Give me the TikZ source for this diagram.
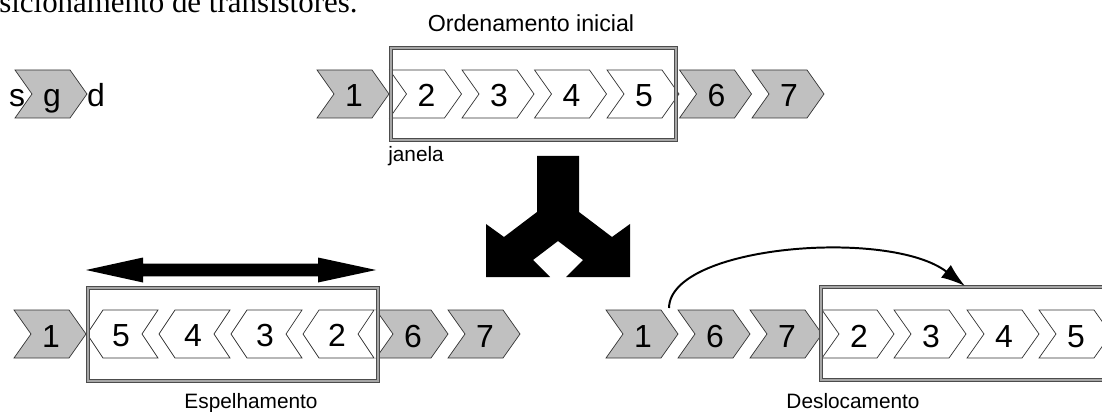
\documentclass[tikz,border=0pt]{standalone}
\usepackage{fontspec}
\setmainfont{Liberation Sans}
\newfontfamily\serifa{Liberation Serif}
\usetikzlibrary{arrows.meta}

\definecolor{cinza}{RGB}{192,192,192}

\tikzset{
  contorno/.style={draw=black!80, line width=0.5pt},
  digito/.style={font=\fontsize{22.7}{26}\selectfont, anchor=base, inner sep=0pt},
  rotulo/.style={font=\fontsize{14.8}{17}\selectfont, anchor=base, inner sep=0pt},
  janela/.style={draw=black!70, double=black!35, double distance=1.8pt, line width=0.7pt},
  % transistor (s -> d)
  pics/seta/.style 2 args={code={
    \draw[contorno, fill=#2] (0,-24) -- (55,-24) -- (72,0) -- (55,24) -- (0,24) -- (17,0) -- cycle;
    \node[digito] (-txt) at (37,13) {#1};
  }},
  % transistor espelhado (d -> s)
  pics/volta/.style 2 args={code={
    \draw[contorno, fill=#2] (0,0) -- (16,-24) -- (71,-24) -- (55,0) -- (71,24) -- (16,24) -- cycle;
    \node[digito] (-txt) at (34,12) {#1};
  }}
}

\begin{document}
\begin{tikzpicture}[x=0.025cm, y=-0.025cm]
    \useasboundingbox (0,0) rectangle (1102,412);
    \begin{scope}[overlay]
    \clip (0,0) rectangle (1102,412);

    % Legenda (cortada)
    \node[font=\serifa\fontsize{22}{26}\selectfont, anchor=base west, inner sep=0pt] (legenda) at (-1,12.5) {sicionamento de transistores.};

    % Transistor: fonte, porta, dreno
    \pic (t) at (15,94) {seta={g}{cinza}};
    \node[digito] (fonte) at (17,107) {s};
    \node[digito] (dreno) at (96,107) {d};

    % Ordenamento inicial
    \pic (a1) at (317,94) {seta={1}{cinza}};
    \pic (a2) at (389.5,94) {seta={2}{white}};
    \pic (a3) at (462,94) {seta={3}{white}};
    \pic (a4) at (534.5,94) {seta={4}{white}};
    \pic (a5) at (607,94) {seta={5}{white}};
    \pic (a6) at (679.5,94) {seta={6}{cinza}};
    \pic (a7) at (752,94) {seta={7}{cinza}};
    \draw[janela] (391,48) rectangle (676,140);
    \node[rotulo, font=\fontsize{16.5}{19}\selectfont] (ordem) at (531,31.5) {Ordenamento inicial};
    \node[rotulo, anchor=base west] (jan) at (388,162) {janela};

    % Seta grande (duas alternativas)
    \fill (537,156) -- (579,156) -- (579,212) -- (612,237) -- (630,224) -- (630,277) -- (566,277)
        -- (583,260) -- (558,241) -- (533,260) -- (550,277) -- (486,277) -- (486,224) -- (504,237)
        -- (537,212) -- cycle;

    % Espelhamento
    \pic (e1) at (14,334) {seta={1}{cinza}};
    \pic (e5) at (87,334) {volta={5}{white}};
    \pic (e4) at (159,334) {volta={4}{white}};
    \pic (e3) at (231,334) {volta={3}{white}};
    \pic (e2) at (303,334) {volta={2}{white}};
    \pic (e6) at (376,334) {seta={6}{cinza}};
    \pic (e7) at (448,334) {seta={7}{cinza}};
    \draw[janela] (88,288) rectangle (378,381);
    \fill (86,270) -- (143,257.5) -- (143,263.7) -- (318,263.7) -- (318,257.5) -- (376,270)
        -- (318,282.5) -- (318,276.3) -- (143,276.3) -- (143,282.5) -- cycle;
    \node[rotulo] (esp) at (251,408) {Espelhamento};

    % Deslocamento
    \pic (d1) at (606,334) {seta={1}{cinza}};
    \pic (d6) at (678,334) {seta={6}{cinza}};
    \pic (d7) at (750,334) {seta={7}{cinza}};
    \pic (d2) at (822,334) {seta={2}{white}};
    \pic (d3) at (894,334) {seta={3}{white}};
    \pic (d4) at (967,334) {seta={4}{white}};
    \pic (d5) at (1039,334) {seta={5}{white}};
    \draw[janela] (821,287) rectangle (1130,380);
    \coordinate (partida) at (669,308);
    \coordinate (alvo) at (965,286);
    \draw[line width=1.4pt, -{Latex[length=0.6cm, width=0.4cm]}] (partida) .. controls (670,245) and (890,228) .. (alvo);
    \node[rotulo] (desl) at (853,408) {Deslocamento};
    \end{scope}
\end{tikzpicture}
\end{document}
